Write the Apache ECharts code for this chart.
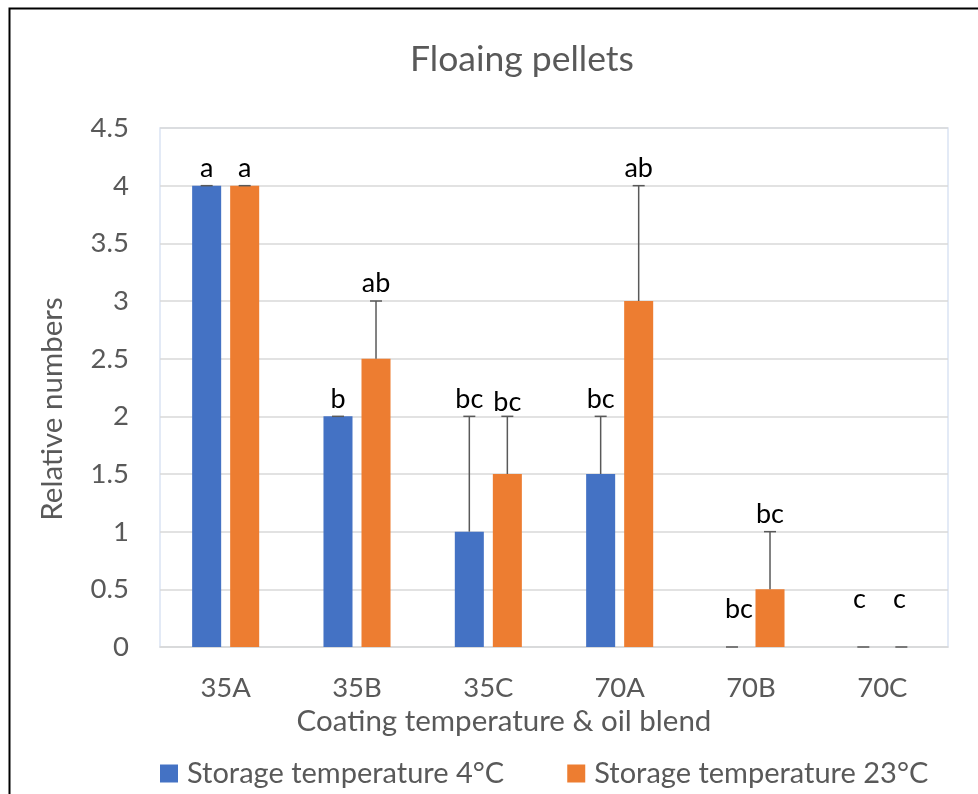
<!DOCTYPE html>
<html><head><meta charset="utf-8">
<script src="https://cdn.jsdelivr.net/npm/echarts@6/dist/echarts.min.js"></script>
<style>html,body{margin:0;padding:0;background:#fff}#chart{width:978px;height:794px}</style>
</head><body><div id="chart"></div>
<script>
// ---- data ----
const chartTitle = 'Floaing pellets';
const xAxisTitle = 'Coating temperature & oil blend';
const yAxisTitle = 'Relative numbers';
const categories = ['35A', '35B', '35C', '70A', '70B', '70C'];
const seriesNames = ['Storage temperature 4°C', 'Storage temperature 23°C'];
const values4 = [4, 2, 1, 1.5, 0, 0];
const values23 = [4, 2.5, 1.5, 3, 0.5, 0];
const errors4 = [0, 0, 1, 0.5, 0, 0];
const errors23 = [0, 0.5, 0.5, 1, 0.5, 0];
const letters4 = ['a', 'b', 'bc', 'bc', 'bc', 'c'];
const letters23 = ['a', 'ab', 'bc', 'ab', 'bc', 'c'];
const yMin = 0, yMax = 4.5, yStep = 0.5;

// ---- styles ----
const FONT = 'Lato';
const TXT = '#595959';
const colors = ['#4472C4', '#ED7D31'];
const BAR_W = 0.221;   // fraction of category band
const BAR_GAP = 0.31;  // fraction of bar width
// per-label pixel shifts [dx, dy] (style only)
const shift4 = [[0,0],[0,0],[0,0],[0,0],[7,-20],[-4,-30]];
const shift23 = [[0,0],[0,0],[0,3],[0,0],[0,0],[-2,-30]];

const chart = echarts.init(document.getElementById('chart'), null, {renderer: 'canvas'});

function errSeries(idx, vals, errs, letters, shifts) {
  const sign = idx === 0 ? -1 : 1;
  return {
    type: 'custom',
    name: 'err' + idx,
    z: 5,
    silent: true,
    data: vals.map((v, i) => [i, v, errs[i]]),
    renderItem: function (params, api) {
      const i = api.value(0), v = api.value(1), e = api.value(2);
      const band = api.size([1, 0])[0];
      const w = band * BAR_W, g = w * BAR_GAP;
      const base = api.coord([i, v]);
      const top = api.coord([i, v + e]);
      const x = base[0] + sign * (w + g) / 2;
      const sh = shifts[i];
      const ls = {stroke: '#595959', lineWidth: 1.5};
      return {
        type: 'group',
        children: [
          {type: 'line', shape: {x1: x, y1: base[1], x2: x, y2: top[1]}, style: ls},
          {type: 'line', shape: {x1: x - 6, y1: top[1], x2: x + 6, y2: top[1]}, style: ls},
          {type: 'text', style: {
            text: letters[i], x: x + sh[0], y: top[1] - 4 + sh[1],
            textAlign: 'center', textVerticalAlign: 'bottom',
            fontFamily: FONT, fontSize: 27, fill: '#000'
          }}
        ]
      };
    }
  };
}

const option = {
  animation: false,
  backgroundColor: '#fff',
  grid: {left: 160, top: 128, right: 30, bottom: 147, show: true,
         borderColor: '#dae3f3', borderWidth: 1.5, backgroundColor: 'transparent'},
  legend: {
    data: seriesNames,
    left: 155, top: 754,
    icon: 'rect', itemWidth: 18, itemHeight: 18, itemGap: 63,
    textStyle: {fontFamily: FONT, fontSize: 29, color: TXT, padding: [0, 0, 0, 4]}
  },
  xAxis: {
    type: 'category', data: categories,
    axisLine: {lineStyle: {color: '#d9d9d9', width: 1.5}},
    axisTick: {show: false},
    axisLabel: {fontFamily: FONT, fontSize: 27.5, color: TXT, margin: 27}
  },
  yAxis: {
    type: 'value', min: yMin, max: yMax, interval: yStep,
    axisLine: {show: false}, axisTick: {show: false},
    splitLine: {lineStyle: {color: '#d9d9d9', width: 1.5}},
    axisLabel: {fontFamily: FONT, fontSize: 27.5, color: TXT, margin: 31}
  },
  series: [
    {type: 'bar', name: seriesNames[0], data: values4, barWidth: (BAR_W * 100) + '%',
     barGap: (BAR_GAP * 100) + '%', itemStyle: {color: colors[0]}, z: 2},
    {type: 'bar', name: seriesNames[1], data: values23, barWidth: (BAR_W * 100) + '%',
     barGap: (BAR_GAP * 100) + '%', itemStyle: {color: colors[1]}, z: 2},
    errSeries(0, values4, errors4, letters4, shift4),
    errSeries(1, values23, errors23, letters23, shift23)
  ],
  graphic: [
    {type: 'rect', left: 7, top: 6, z: 100, silent: true,
     shape: {x: 0, y: 0, width: 1000, height: 820},
     style: {fill: 'none', stroke: '#000', lineWidth: 2}},
    {type: 'text', x: 522, y: 60, silent: true,
     style: {text: chartTitle, textAlign: 'center', textVerticalAlign: 'middle',
             fontFamily: FONT, fontSize: 35.5, fill: TXT}},
    {type: 'text', x: 504, y: 721, silent: true,
     style: {text: xAxisTitle, textAlign: 'center', textVerticalAlign: 'middle',
             fontFamily: FONT, fontSize: 29.5, fill: TXT}},
    {type: 'text', x: 52, y: 409, rotation: Math.PI / 2, silent: true,
     style: {text: yAxisTitle, textAlign: 'center', textVerticalAlign: 'middle',
             fontFamily: FONT, fontSize: 29.5, fill: TXT}}
  ]
};
chart.setOption(option);
</script>
</body></html>
